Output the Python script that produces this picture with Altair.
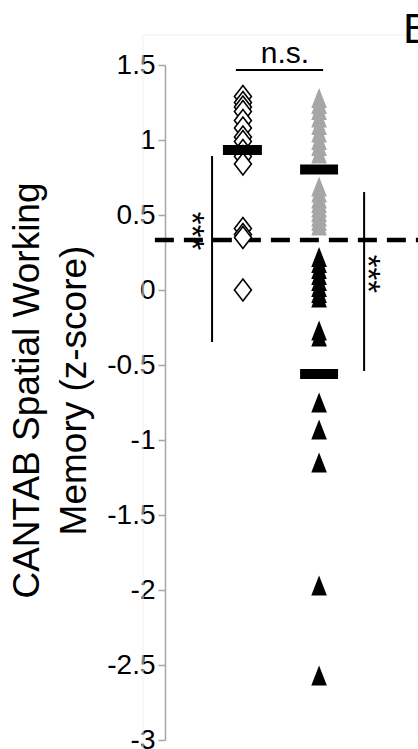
import altair as alt
import pandas as pd

# ---- data ----
y_ticks = [-3, -2.5, -2, -1.5, -1, -0.5, 0, 0.5, 1, 1.5]
y_title = ["CANTAB Spatial Working", "Memory (z-score)"]

group_x = {"control": 3.08, "patients": 6.09}   # category positions on a 0-10 strip

control_vals = [1.29, 1.25, 1.22, 1.19, 1.13, 1.08, 1.02, 0.99, 0.93, 0.89, 0.84,
                0.41, 0.37, 0.35, 0.0]
patients_above = [1.28, 1.24, 1.20, 1.15, 1.10, 1.05, 1.00, 0.96, 0.91,
                  0.69, 0.65, 0.61, 0.58, 0.55, 0.52, 0.49, 0.46, 0.43]
patients_below = [0.22, 0.18, 0.14, 0.10, 0.06, 0.02, -0.02, -0.05,
                  -0.27, -0.31, -0.75, -0.93, -1.15, -1.97, -2.57]

mean_labels = ["control", "patients above", "patients below"]
mean_vals = [0.933, 0.803, -0.56]
mean_x0 = [2.29, 5.34, 5.34]
mean_x1 = [3.83, 6.84, 6.84]

cutoff = 0.333
ns_y = 1.467
ns_x = [2.8, 6.25]
sig_lines_x = [1.86, 7.87]
sig_lines_top = [0.893, 0.653]
sig_lines_bottom = [-0.347, -0.54]
sig_text_x = [1.04, 7.99]
sig_text_y = [0.393, 0.107]

W, H = 253, 675
xs = alt.Scale(domain=[0, 10], nice=False, zero=False)
ys = alt.Scale(domain=[-3, 1.5], nice=False, zero=False)
FONT = "Liberation Sans"

diamond = "M0,-1L0.77,0L0,1L-0.77,0Z"
tri = "M0,-1L0.78,1L-0.78,1Z"

yaxis = alt.Axis(values=y_ticks, labelExpr="'' + datum.value", grid=False,
                 title=y_title, titleX=-138, titleY=325)


def X(field):
    return alt.X(field, type="quantitative", scale=xs, axis=None)


def Y(field):
    return alt.Y(field, type="quantitative", scale=ys, axis=yaxis)


df_c = pd.DataFrame({"x": group_x["control"], "v": control_vals})
df_pa = pd.DataFrame({"x": group_x["patients"], "v": patients_above})
df_pb = pd.DataFrame({"x": group_x["patients"], "v": patients_below})
df_mean = pd.DataFrame({"g": mean_labels, "v": mean_vals, "x0": mean_x0, "x1": mean_x1})
df_sig = pd.DataFrame({"x": sig_lines_x, "v": sig_lines_top, "bot": sig_lines_bottom})
df_sigt = pd.DataFrame({"x": sig_text_x, "v": sig_text_y, "t": ["***", "***"]})
df_ns = pd.DataFrame({"x0": [ns_x[0]], "x1": [ns_x[1]], "v": [ns_y]})
df_nst = pd.DataFrame({"xm": [4.74], "v": [1.513], "t": ["n.s."]})
df_cut = pd.DataFrame({"x0": [-0.4], "x1": [10.0], "v": [cutoff]})
df_frame = pd.DataFrame({"x0": [-0.87], "x1": [10.6], "v": [1.7], "y1": [-3.2]})
df_letter = pd.DataFrame({"x": [9.41], "v": [1.647], "t": ["B"]})

frame = alt.Chart(df_frame).mark_rect(fill=None, stroke="#f0f0f0", strokeWidth=1).encode(
    x=X("x0"), x2="x1", y=Y("v"), y2="y1")

cut = alt.Chart(df_cut).mark_rule(color="black", strokeWidth=4.5, strokeDash=[19, 10]).encode(
    x=X("x0"), x2="x1", y=Y("v"))

ctrl = alt.Chart(df_c).mark_point(shape=diamond, size=484, filled=True, fill="white",
                                  stroke="black", strokeWidth=1.6, opacity=1).encode(
    x=X("x"), y=Y("v"))

pa = alt.Chart(df_pa).mark_point(shape=tri, size=400, filled=True, color="#a6a6a6",
                                 opacity=1).encode(x=X("x"), y=Y("v"))

pb = alt.Chart(df_pb).mark_point(shape=tri, size=400, filled=True, color="black",
                                 opacity=1).encode(x=X("x"), y=Y("v"))

means = alt.Chart(df_mean).mark_rule(color="black", strokeWidth=10, strokeCap="butt").encode(
    x=X("x0"), x2="x1", y=Y("v"))

sig = alt.Chart(df_sig).mark_rule(color="black", strokeWidth=2).encode(
    x=X("x"), y=Y("v"), y2="bot")

sigt = alt.Chart(df_sigt).mark_text(font=FONT, fontSize=33, angle=90, align="center",
                                    baseline="middle", color="black").encode(
    x=X("x"), y=Y("v"), text="t")

ns_line = alt.Chart(df_ns).mark_rule(color="black", strokeWidth=2).encode(
    x=X("x0"), x2="x1", y=Y("v"))

ns_text = alt.Chart(df_nst).mark_text(font=FONT, fontSize=30, align="center",
                                      baseline="alphabetic", color="black").encode(
    x=X("xm"), y=Y("v"), text="t")

letter = alt.Chart(df_letter).mark_text(font=FONT, fontSize=43, align="left",
                                        baseline="alphabetic", color="black").encode(
    x=X("x"), y=Y("v"), text="t")

chart = alt.layer(frame, cut, ctrl, pa, pb, means, sig, sigt, ns_line, ns_text, letter).properties(
    width=W, height=H,
    autosize=alt.AutoSizeParams(type="none"),
    padding={"left": 165, "top": 65, "right": 0, "bottom": 9},
    background="white",
).configure_view(stroke=None).configure_axisY(
    domainColor="#a6a6a6", tickColor="#a6a6a6", domainWidth=1.5,
    tickWidth=1.5, tickSize=7, labelFont=FONT, labelFontSize=28,
    labelColor="black", labelPadding=3,
    titleFont=FONT, titleFontSize=37, titleFontWeight="normal",
    titleColor="black", titleLineHeight=47, titleAngle=-90,
    titleBaseline="middle", titleAlign="center",
)

chart.save("out.html", embed_options={"renderer": "svg", "actions": False})
